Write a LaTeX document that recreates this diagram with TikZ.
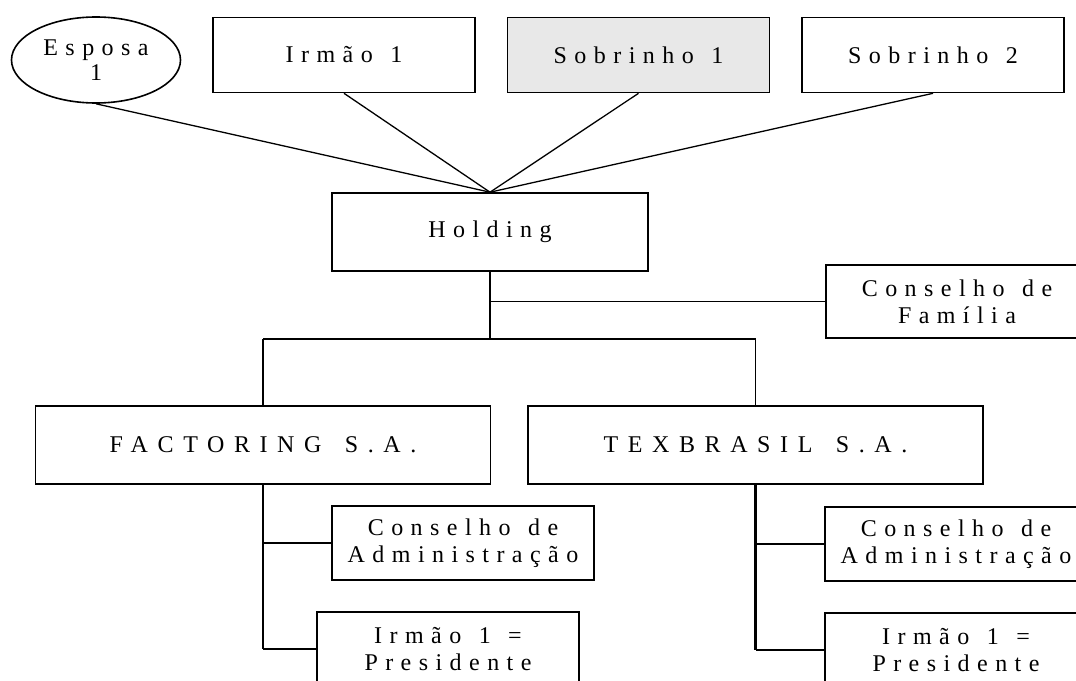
\documentclass[tikz,border=0pt]{standalone}
\usepackage{fontspec}
\setmainfont{Liberation Serif}
\newfontfamily\espacada[LetterSpace=31, WordSpace=1.3]{Liberation Serif}
\newfontfamily\largas[LetterSpace=40, WordSpace=1.5]{Liberation Serif}
\usetikzlibrary{shapes.geometric, calc}

\definecolor{cinza}{RGB}{232,232,232}

\tikzset{
    texto/.style={font=\espacada\fontsize{24}{27}\selectfont, align=center, inner sep=0pt},
    caixa/.style={texto, draw, line width=1.6pt, minimum width=262pt, minimum height=75pt},
    empresa/.style={caixa, minimum width=455pt, minimum height=78pt, font=\largas\fontsize{24}{27}\selectfont},
    ligacao/.style={line width=1.3pt},
    tronco/.style={line width=2.4pt}
}

\begin{document}
\begin{tikzpicture}[x=1pt, y=-1pt]
    \def\W{1076} % largura da figura
    \def\H{680}  % altura da figura

\useasboundingbox (0,0) rectangle (\W,\H);

% socios (linha de cima)
\node[texto, ellipse, draw, line width=1.6pt, minimum width=169pt, minimum height=86pt,
      font=\espacada\fontsize{24}{25}\selectfont] (esposa) at (96,60) {Esposa\\1};
\node[caixa] (irmao) at (344,55) {Irmão 1};
\node[caixa, fill=cinza] (sobrinho1) at (638.5,55) {Sobrinho 1};
\node[caixa] (sobrinho2) at (933,55) {Sobrinho 2};

% holding e conselho de familia
\node[caixa, minimum width=316pt, minimum height=78pt] (holding) at (490,232) {Holding};
\node[caixa, minimum height=73pt] (familia) at (957,301.5) {Conselho de\\Família};

% empresas operacionais
\node[empresa] (factoring) at (263,445) {FACTORING S.A.};
\node[empresa] (texbrasil) at (755.5,445) {TEXBRASIL S.A.};

% conselhos e presidentes
\node[caixa, minimum height=74pt] (adm1) at (463,543) {Conselho de\\Administração};
\node[caixa, minimum height=74pt] (pres1) at (448,649) {Irmão 1 =\\Presidente};
\node[caixa, minimum height=74pt] (adm2) at (956,544) {Conselho de\\Administração};
\node[caixa, minimum height=74pt] (pres2) at (956,650) {Irmão 1 =\\Presidente};

% ligacoes dos socios com a holding
\foreach \s in {esposa, irmao, sobrinho1, sobrinho2} {
    \draw[ligacao] (\s.south) -- (holding.north);
}

% tronco da holding
\coordinate (juncao) at (490,339);
\draw[tronco] (holding.south) -- (juncao);
\draw[ligacao] (holding.south |- familia.west) -- (familia.west);
\draw[ligacao] (factoring.north |- juncao) -- (texbrasil.north |- juncao);
\draw[ligacao] (factoring.north |- juncao) -- (factoring.north);
\draw[ligacao] (texbrasil.north |- juncao) -- (texbrasil.north);

% tronco de cada empresa
\foreach \e/\a/\p in {factoring/adm1/pres1, texbrasil/adm2/pres2} {
    \draw[tronco] (\e.south) -- (\e.south |- \p.west);
    \draw[ligacao] (\e.south |- \a.west) -- (\a.west);
    \draw[ligacao] (\e.south |- \p.west) -- (\p.west);
}

\end{tikzpicture}
\end{document}
